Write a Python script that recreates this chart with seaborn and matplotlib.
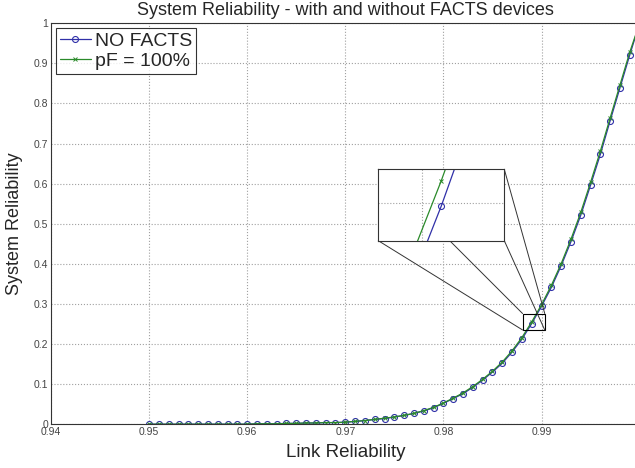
import matplotlib
matplotlib.use("Agg")
import matplotlib.pyplot as plt
from matplotlib.patches import Rectangle, ConnectionPatch
import seaborn as sns

# Link reliability (x) and system reliability for both cases
link_rel = [0.950, 0.951, 0.952, 0.953, 0.954, 0.955, 0.956, 0.957, 0.958, 0.959,
            0.960, 0.961, 0.962, 0.963, 0.964, 0.965, 0.966, 0.967, 0.968, 0.969,
            0.970, 0.971, 0.972, 0.973, 0.974, 0.975, 0.976, 0.977, 0.978, 0.979,
            0.980, 0.981, 0.982, 0.983, 0.984, 0.985, 0.986, 0.987, 0.988, 0.989,
            0.990, 0.991, 0.992, 0.993, 0.994, 0.995, 0.996, 0.997, 0.998, 0.999,
            1.000]

no_facts = [0.000, 0.000, 0.000, 0.000, 0.000, 0.000, 0.000, 0.000, 0.000, 0.000,
            0.000, 0.001, 0.001, 0.001, 0.002, 0.002, 0.003, 0.003, 0.004, 0.004,
            0.005, 0.007, 0.009, 0.012, 0.014, 0.018, 0.022, 0.027, 0.033, 0.041,
            0.052, 0.064, 0.076, 0.092, 0.110, 0.130, 0.152, 0.180, 0.212, 0.251,
            0.294, 0.341, 0.395, 0.455, 0.521, 0.596, 0.673, 0.757, 0.839, 0.921,
            1.000]

pf_100 = [0.000, 0.000, 0.000, 0.000, 0.000, 0.000, 0.000, 0.000, 0.000, 0.000,
          0.000, 0.001, 0.001, 0.001, 0.002, 0.002, 0.003, 0.003, 0.004, 0.004,
          0.005, 0.007, 0.009, 0.012, 0.015, 0.018, 0.022, 0.027, 0.034, 0.042,
          0.053, 0.065, 0.078, 0.094, 0.112, 0.132, 0.155, 0.183, 0.216, 0.255,
          0.298, 0.346, 0.400, 0.461, 0.528, 0.603, 0.681, 0.764, 0.846, 0.928,
          1.000]

x_ticks = [0.94, 0.95, 0.96, 0.97, 0.98, 0.99]
y_ticks = [0, 0.1, 0.2, 0.3, 0.4, 0.5, 0.6, 0.7, 0.8, 0.9, 1]

blue = "#3030a8"
green = "#2a8a2a"

sns.set_style("white")
plt.rcParams["font.family"] = ["Liberation Sans", "DejaVu Sans"]
plt.rcParams["xtick.direction"] = "in"
plt.rcParams["ytick.direction"] = "in"

fig = plt.figure(figsize=(6.35, 4.68), dpi=100)
W, H = 635, 468
ax = fig.add_axes([51 / W, 1 - 424.2 / H, (639.6 - 51) / W, (424.2 - 23.2) / H])

sns.lineplot(x=link_rel, y=no_facts, ax=ax, color=blue, lw=0.9, marker="o",
             markersize=4.3, markerfacecolor="none", markeredgecolor=blue,
             markeredgewidth=0.8, label="NO FACTS")
sns.lineplot(x=link_rel, y=pf_100, ax=ax, color=green, lw=0.9, marker="x",
             markersize=2.8, markeredgecolor=green, markeredgewidth=0.7,
             label="pF = 100%")

ax.set_xlim(0.94, 1.0)
ax.set_ylim(0, 1)
ax.set_xticks(x_ticks)
ax.set_xticklabels([str(t) for t in x_ticks])
ax.set_yticks(y_ticks)
ax.set_yticklabels([str(t) for t in y_ticks])
ax.tick_params(labelsize=7.5, labelcolor="#444444", length=4, width=0.6,
               color="#444444", pad=2)
ax.grid(True, linestyle=":", color="#a0a0a0", lw=0.8)
for s in ax.spines.values():
    s.set_color("#333333")
    s.set_linewidth(0.8)

ax.set_xlabel("Link Reliability", fontsize=13.5, labelpad=5)
ax.set_ylabel("System Reliability", fontsize=13, labelpad=8)
ax.set_title("System Reliability - with and without FACTS devices",
             fontsize=13, pad=6)

leg = ax.legend(loc="upper left", fontsize=14, frameon=True, fancybox=False,
                edgecolor="black", borderaxespad=0.25, borderpad=0.2,
                labelspacing=0.15, handlelength=1.6, handletextpad=0.2)
leg.get_frame().set_linewidth(0.8)

# zoom box on the main axes
box_x, box_y, box_w, box_h = 0.98807, 0.235, 0.00226, 0.041
ax.add_patch(Rectangle((box_x, box_y), box_w, box_h, fill=False,
                       edgecolor="black", lw=0.8, zorder=5))

# magnified inset
axins = fig.add_axes([378.3 / W, 1 - 240.7 / H, 126 / W, 71.4 / H])
axins.set_zorder(3)
sns.lineplot(x=link_rel, y=no_facts, ax=axins, color=blue, lw=0.9, marker="o",
             markersize=4.3, markerfacecolor="none", markeredgecolor=blue,
             markeredgewidth=0.8, legend=False)
sns.lineplot(x=link_rel, y=pf_100, ax=axins, color=green, lw=0.9, marker="x",
             markersize=2.8, markeredgecolor=green, markeredgewidth=0.7,
             legend=False)
axins.set_xlim(0.98835, 0.98965)
axins.set_ylim(0.2455, 0.2568)
axins.set_xticks([0.9888])
axins.set_yticks([0.2515])
axins.tick_params(labelbottom=False, labelleft=False, length=0)
axins.set_xlabel("")
axins.set_ylabel("")
axins.grid(True, linestyle=":", color="#a0a0a0", lw=0.8)
axins.set_facecolor("white")
for s in axins.spines.values():
    s.set_color("#333333")
    s.set_linewidth(0.8)

# connect box corners to inset corners
corners = [((box_x, box_y + box_h), (0, 1)), ((box_x + box_w, box_y + box_h), (1, 1)),
           ((box_x, box_y), (0, 0)), ((box_x + box_w, box_y), (1, 0))]
for main_xy, ins_xy in corners:
    con = ConnectionPatch(xyA=main_xy, coordsA=ax.transData, xyB=ins_xy,
                          coordsB=axins.transAxes, color="#333333", lw=0.7)
    con.set_zorder(2)
    fig.add_artist(con)

fig.savefig("out.png", dpi=100)
